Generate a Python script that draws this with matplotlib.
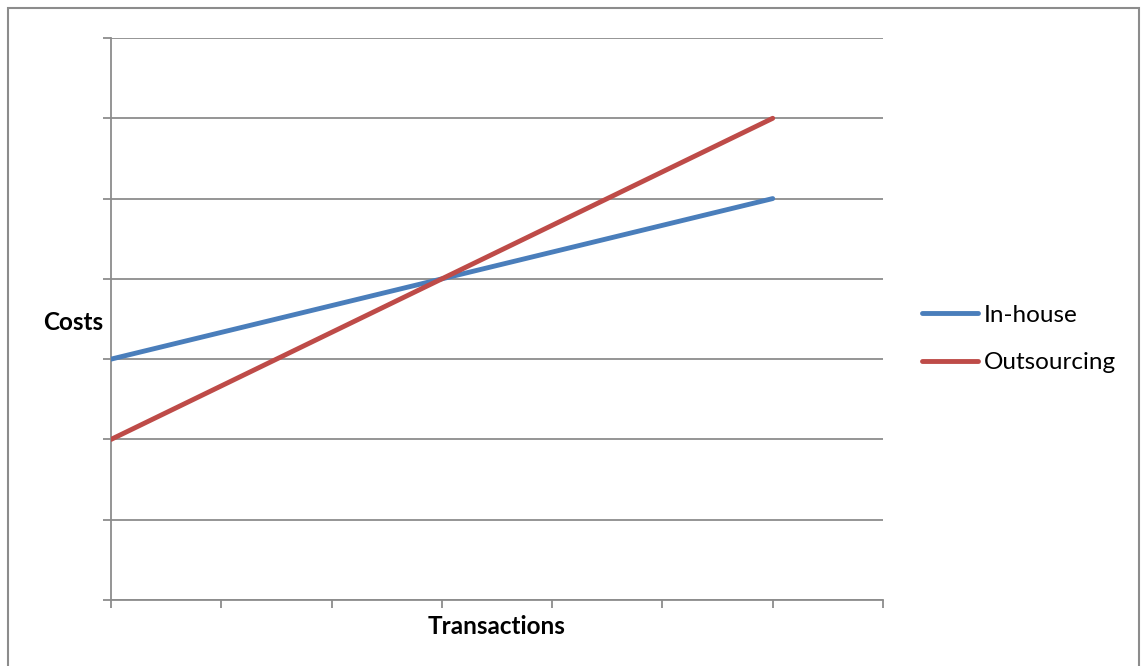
import matplotlib
matplotlib.use("Agg")
import matplotlib.pyplot as plt
from matplotlib.patches import Rectangle

# Data
x_positions = [0, 3, 6]
inhouse = [3, 4, 5]
outsourcing = [2, 4, 6]
series_names = ["In-house", "Outsourcing"]
colors = ["#4A7EBB", "#BE4B48"]

W, H = 1141, 666
fig = plt.figure(figsize=(W / 100, H / 100), dpi=100)
plt.rcParams['font.family'] = ['Lato', 'DejaVu Sans']

ax = fig.add_axes([111 / W, (H - 600) / H, (883 - 111) / W, (600 - 38) / H])

grid_c = "#8c8c8c"
for name, ys, c in zip(series_names, [inhouse, outsourcing], colors):
    ax.plot(x_positions, ys, color=c, lw=3.5, solid_capstyle='round', label=name, zorder=3)

ax.set_xlim(0, 7)
ax.set_ylim(0, 7)
ax.set_xticks(range(0, 8))
ax.set_yticks(range(0, 8))
ax.set_xticklabels([])
ax.set_yticklabels([])
ax.yaxis.grid(True, color=grid_c, lw=1.3)
ax.set_axisbelow(True)
for s in ['top', 'right']:
    ax.spines[s].set_visible(False)
for s in ['left', 'bottom']:
    ax.spines[s].set_color(grid_c)
    ax.spines[s].set_linewidth(1.3)
ax.tick_params(axis='both', direction='out', length=6, width=1.3, color=grid_c)

ax.set_xlabel("Transactions", fontsize=17.5, fontweight='bold', labelpad=1)
fig.text(73 / W, 1 - 322 / H, "Costs", fontsize=17.5, fontweight='bold', ha='center', va='center')

leg = ax.legend(loc='center left', bbox_to_anchor=(922 / W, 1 - 339 / H), bbox_transform=fig.transFigure,
                frameon=False, fontsize=17.5, handlelength=2.3, handletextpad=0.25, labelspacing=1.1,
                borderpad=0, borderaxespad=0)

fig.add_artist(Rectangle((7.5 / W, -0.05), (1139 - 7.5) / W, 1.05 - 8.5 / H, transform=fig.transFigure,
                         fill=False, edgecolor="#8c8c8c", lw=1.5))

fig.savefig("out.png", dpi=100)
